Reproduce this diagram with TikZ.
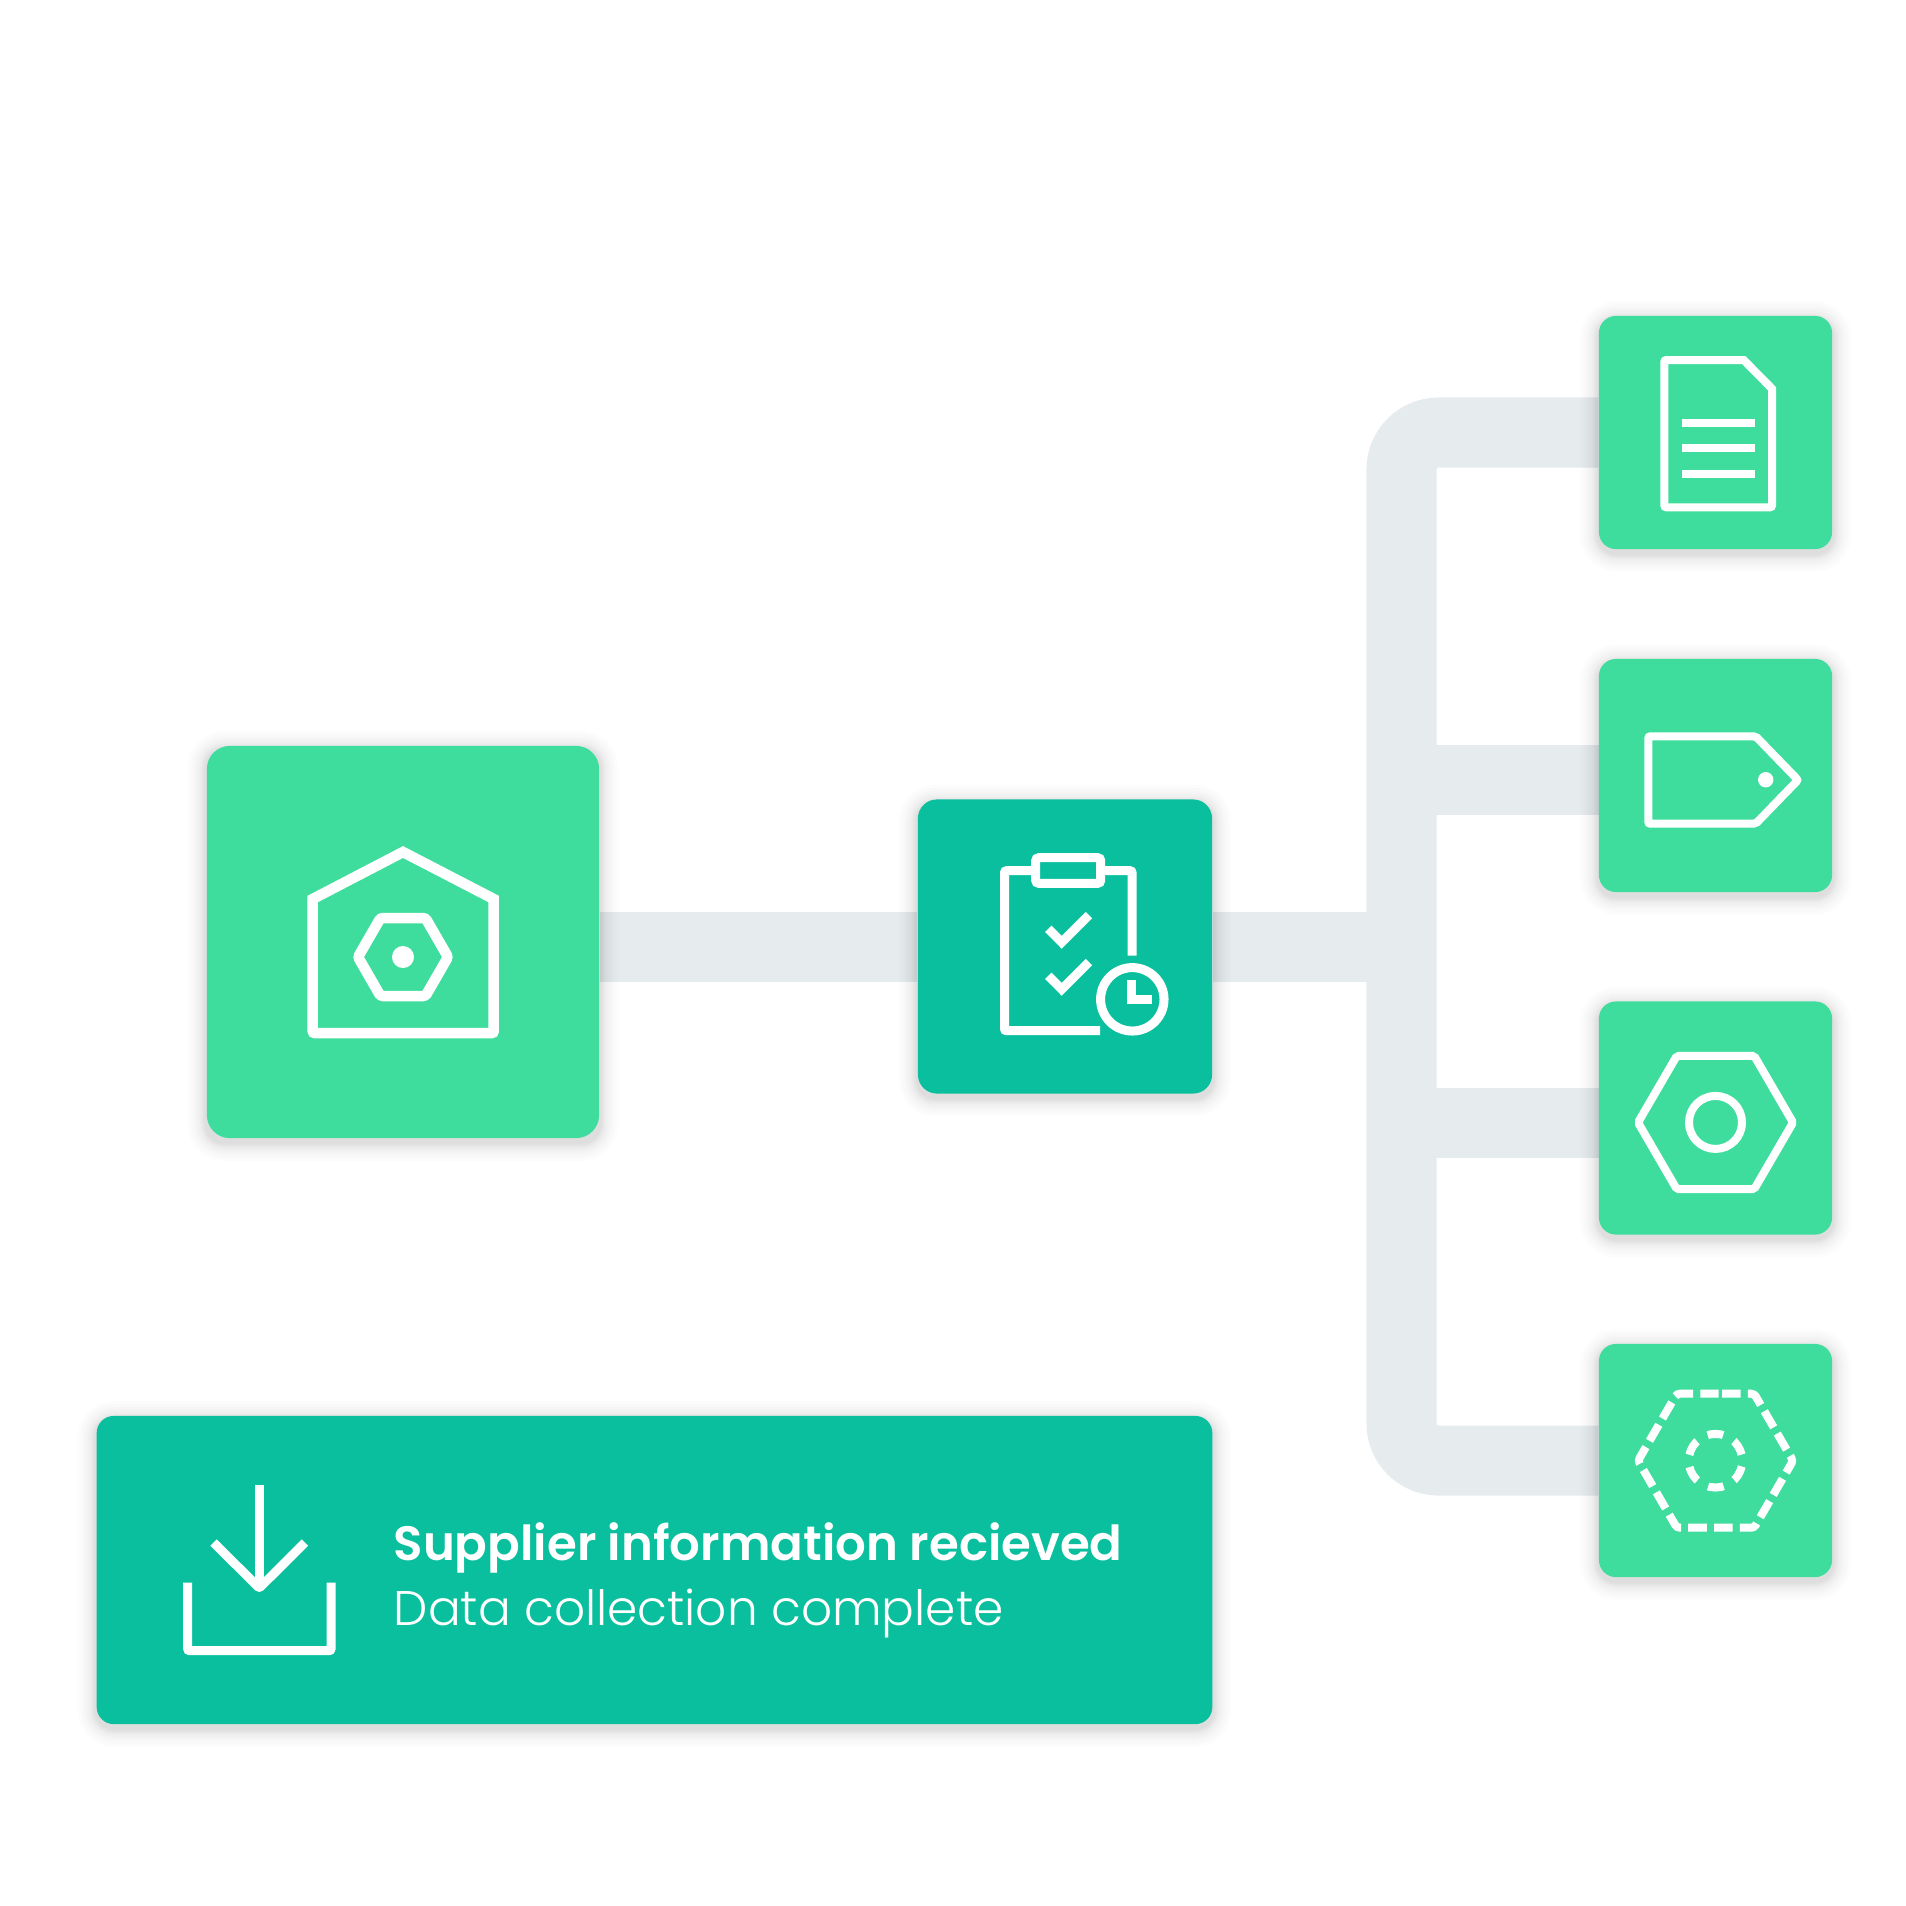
\documentclass[tikz,border=0pt]{standalone}
\usepackage{fontspec}
\setmainfont{Poppins}
\newfontfamily\poplight{Poppins Light}
\newfontfamily\popsemi{Poppins SemiBold}
\usetikzlibrary{backgrounds, calc}
\definecolor{mintgreen}{HTML}{3EDD9D}
\definecolor{deepgreen}{HTML}{0ABF9D}
\definecolor{linkgray}{HTML}{E6EBEE}
\tikzset{
    tile/.style={rectangle, rounded corners=0.17cm, fill=mintgreen, minimum size=2.33cm, inner sep=0pt},
    bigtile/.style={tile, rounded corners=0.23cm, minimum size=3.92cm},
    midtile/.style={tile, rounded corners=0.19cm, fill=deepgreen, minimum size=2.94cm},
    banner/.style={tile, rounded corners=0.17cm, fill=deepgreen, minimum width=11.15cm, minimum height=3.08cm},
    link/.style={draw=linkgray, line width=0.70cm},
    haze/.style={fill=black, opacity=0.013},
    icon/.style={draw=white, line width=0.09cm, line join=miter},
    thinicon/.style={icon, line width=0.08cm},
    hexdash/.style={thinicon, dash pattern=on 0.186cm off 0.072cm, dash phase=0.222cm},
    ringdash/.style={thinicon, dash pattern=on 0.157cm off 0.124cm, dash phase=0.219cm},
    caption/.style={anchor=base west, inner sep=0pt, text=white}
}
\begin{document}
\begin{tikzpicture}[x=0.01cm, y=-0.01cm]
    \useasboundingbox (0,0) rectangle (1906,1905);
    % Tiles
    \node[bigtile] (warehouse) at (403,942) {};
    \node[midtile] (checklist) at (1065,946.5) {};
    \node[tile] (document) at (1715.5,432.5) {};
    \node[tile] (tag) at (1715.5,775.5) {};
    \node[tile] (nut) at (1715.5,1118) {};
    \node[tile] (dashnut) at (1715.5,1460.5) {};
    \node[banner] (notice) at (654.5,1570) {};

    % Links and shadows lie behind the tiles
    \coordinate (trunk) at (1401.5,946.5);
    \coordinate (tagport) at (1599,780);
    \coordinate (nutport) at (1599,1122.5);
    \begin{scope}[on background layer]
        \draw[link] (warehouse.east |- checklist.west) -- (checklist.west);
        \draw[link] (checklist.east) -- (trunk);
        \draw[link] (trunk |- tagport) -- (tagport);
        \draw[link] (trunk |- nutport) -- (nutport);
        \draw[link, rounded corners=0.37cm] (document.west) -- (document.west -| trunk) -- (dashnut.west -| trunk) -- (dashnut.west);
        \foreach \t in {warehouse,checklist,document,tag,nut,dashnut,notice}
            \foreach \g in {1,2,3,4,5,6,8,10,12,15,18}
                \fill[haze, rounded corners={(0.18cm+\g*0.01cm)}] ($(\t.south west)+(-\g,\g+4)$) rectangle ($(\t.north east)+(\g,-\g+4)$);
    \end{scope}

    % Warehouse icon
    \draw[icon, line width=0.105cm] (403,852) -- (493.7,899) [rounded corners=0.02cm] -- (493.7,1033) -- (312.7,1033) [sharp corners] -- (312.7,899) -- cycle;
    \draw[icon, line width=0.105cm, rounded corners=0.025cm] (380.5,918) -- (425.5,918) -- (448,957) -- (425.5,996) -- (380.5,996) -- (358,957) -- cycle;
    \fill[white] (403,957) circle (0.11cm);

    % Checklist icon
    \draw[icon, rounded corners=0.03cm] (1035.7,857.7) rectangle (1100.7,883.3);
    \draw[icon, rounded corners=0.02cm] (1036,870.7) -- (1004.5,870.7) -- (1004.5,1030.7) -- (1100,1030.7);
    \draw[icon, rounded corners=0.02cm] (1101,870.7) -- (1132,870.7) -- (1132,955.7);
    \foreach \y in {0,47}
        \draw[icon] (1048.3,928.7+\y) -- (1061.7,942.3+\y) -- (1089,915+\y);
    \draw[icon] (1132.3,999.3) circle (0.317cm);
    \draw[icon] (1131.8,980) -- (1131.8,999.5) -- (1151.7,999.5);

    % Document icon
    \draw[thinicon, rounded corners=0.02cm] (1743.7,360) -- (1664.3,360) -- (1664.3,507.3) -- (1772,507.3) [sharp corners] -- (1772,388.7) -- cycle;
    \foreach \y in {423,448.3,473.7}
        \draw[thinicon] (1682,\y) -- (1755,\y);

    % Tag icon
    \draw[thinicon, rounded corners=0.02cm] (1755.7,736.3) -- (1648.3,736.3) -- (1648.3,823.7) -- (1755.7,823.7) -- (1798,780) -- cycle;
    \fill[white] (1765.7,779.7) circle (0.077cm);

    % Solid nut icon
    \draw[thinicon, rounded corners=0.02cm] (1676.8,1055.8) -- (1754.2,1055.8) -- (1793,1122.5) -- (1754.2,1189.2) -- (1676.8,1189.2) -- (1638,1122.5) -- cycle;
    \draw[thinicon] (1715.5,1122.4) circle (0.265cm);

    % Dashed nut icon
    \draw[hexdash, rounded corners=0.03cm] (1715.5,1393.7) -- (1754.2,1393.7) -- (1793,1460.7) -- (1754.2,1527.7) -- (1676.8,1527.7) -- (1638,1460.7) -- (1676.8,1393.7) -- cycle;
    \draw[ringdash] (1715.5,1460.7) circle (0.268cm);

    % Download icon
    \draw[icon] (259.3,1485.3) -- (259.3,1584);
    \draw[icon, rounded corners=0.02cm] (213.5,1542.5) -- (259.3,1588) -- (305,1542.5);
    \draw[icon, rounded corners=0.02cm] (187.7,1582.7) -- (187.7,1650.7) -- (331,1650.7) -- (331,1582.7);

    % Banner text
    \node[caption, font=\fontsize{13.72pt}{17pt}\popsemi] (title) at (393,1560) {Supplier information recieved};
    \node[caption, font=\fontsize{13.82pt}{17pt}\poplight] (subtitle) at (393,1625) {Data collection complete};
\end{tikzpicture}
\end{document}
